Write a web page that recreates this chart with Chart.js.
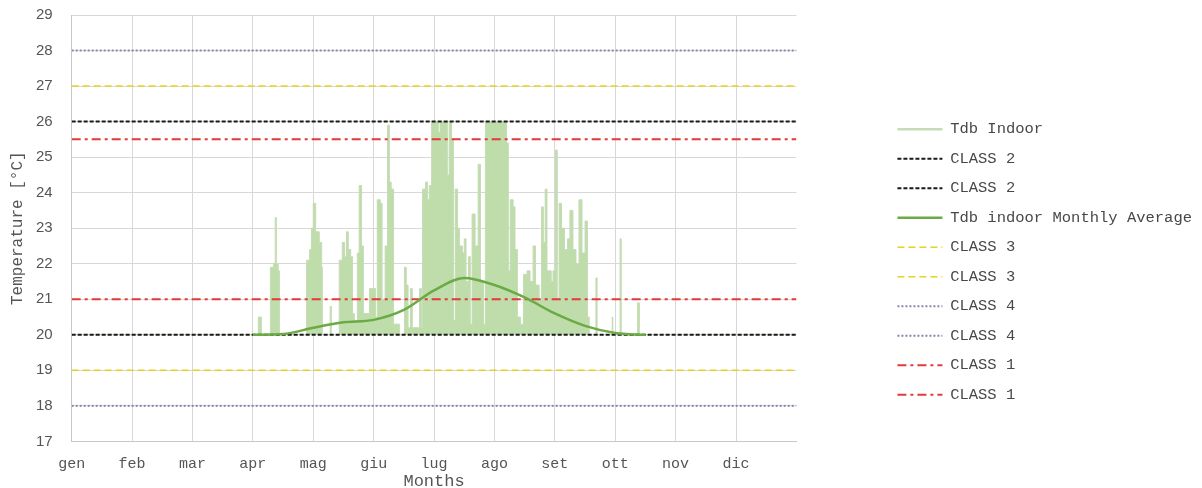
<!DOCTYPE html>
<html>
<head>
<meta charset="utf-8">
<script src="https://cdn.jsdelivr.net/npm/chart.js@4/dist/chart.umd.min.js"></script>
<style>
  body { margin: 0; background: #fff; }
  #wrap { width: 1202px; height: 488px; }
</style>
</head>
<body>
<div id="wrap"><canvas id="tempChart"></canvas></div>
<script>
// month labels (x axis runs 0..12, one unit per month)
var monthLabels = ['gen', 'feb', 'mar', 'apr', 'mag', 'giu', 'lug', 'ago', 'set', 'ott', 'nov', 'dic'];

// Tdb Indoor (x in months, y in degC)
var tdbX = [0, 3.04, 3.09, 3.13, 3.14, 3.28, 3.29, 3.34, 3.37, 3.39, 3.42, 3.44,
    3.87, 3.89, 3.94, 3.97, 4.00, 4.04, 4.07, 4.10, 4.14, 4.15, 4.27, 4.28, 4.30,
    4.42, 4.43, 4.48, 4.52, 4.55, 4.58, 4.62, 4.65, 4.68, 4.73, 4.76, 4.80, 4.83,
    4.90, 4.93, 5.00, 5.03, 5.06, 5.11, 5.14, 5.19, 5.23, 5.26, 5.29, 5.33, 5.41,
    5.43, 5.49, 5.51, 5.54, 5.57, 5.61, 5.64, 5.76, 5.79, 5.81, 5.86, 5.89, 5.92,
    5.96, 6.04, 6.07, 6.10, 6.19, 6.22, 6.25, 6.29, 6.32, 6.35, 6.39, 6.42, 6.47,
    6.50, 6.53, 6.57, 6.60, 6.63, 6.68, 6.73, 6.77, 6.82, 6.85, 7.16, 7.20, 7.23,
    7.26, 7.31, 7.34, 7.38, 7.43, 7.48, 7.54, 7.59, 7.64, 7.68, 7.74, 7.78, 7.81,
    7.84, 7.87, 7.94, 7.97, 8.01, 8.04, 8.07, 8.11, 8.16, 8.21, 8.25, 8.30, 8.35,
    8.40, 8.45, 8.50, 8.54, 8.57, 8.67, 8.68, 8.70, 8.93, 8.95, 8.96, 9.07, 9.08,
    9.10, 9.36, 9.37, 9.40, 12];
var tdbIndoor = [20, 20, 20.5, 20.5, 20, 20, 21.9, 22.0, 23.3, 22.0, 21.8, 20,
    20, 22.1, 22.4, 23.0, 23.7, 22.9, 22.9, 22.6, 21.9, 20, 20, 20.8, 20,
    20, 22.1, 22.6, 22.2, 22.9, 22.4, 22.2, 20.6, 20.4, 22.3, 24.2, 22.5, 20.6,
    20.6, 21.3, 21.3, 20.5, 23.8, 23.7, 21.0, 22.5, 25.9, 24.3, 24.1, 20.3, 20.3,
    20, 20, 21.9, 21.4, 20.2, 21.3, 20.2, 21.3, 20.2, 24.1, 24.3, 23.8, 24.2,
    26, 26, 25.7, 26, 26, 24.5, 26, 25.5, 20.4, 24.1, 23.0, 22.5, 22.3,
    22.7, 21.5, 22.2, 20.3, 23.4, 22.5, 24.8, 21.5, 20.3, 26, 26, 25.4, 21.8,
    23.8, 23.6, 22.4, 20.5, 20.3, 21.7, 21.8, 21.5, 22.5, 21.4, 21.0, 23.6, 22.6,
    24.1, 21.8, 21.5, 21.8, 25.2, 21.0, 23.7, 23.0, 22.4, 22.7, 23.5, 22.4, 22.0,
    23.8, 22.3, 23.2, 20.5, 20, 20, 21.6, 20, 20, 20.5, 20, 20, 22.7,
    20, 20, 20.9, 20, 20];

// monthly average curve
var avgX = [3.0, 3.5, 4.0, 4.5, 5.0, 5.5, 6.0, 6.5, 7.0, 7.5, 8.0, 8.5, 9.0, 9.5];
var avgTemp = [20.0, 20.02, 20.2, 20.35, 20.42, 20.7, 21.25, 21.6, 21.4, 21.05, 20.6, 20.25, 20.05, 20.0];

// comfort class limits (upper, lower)
var class1 = [25.5, 21];
var class2 = [26, 20];
var class3 = [27, 19];
var class4 = [28, 18];

function pts(xs, ys) {
    return xs.map(function (x, i) { return { x: x, y: ys[i] }; });
}
function flat(v) {
    return [{ x: 0, y: v }, { x: 12, y: v }];
}
function limitLine(label, v, color, dash, width) {
    return {
        label: label,
        data: flat(v),
        borderColor: color,
        backgroundColor: color,
        borderDash: dash,
        borderWidth: width,
        pointRadius: 0,
        pointHoverRadius: 0,
        fill: false,
        order: 1
    };
}

var monoFont = "'Liberation Mono', 'DejaVu Sans Mono', monospace";

var ctx = document.getElementById('tempChart').getContext('2d');
var tempChart = new Chart(ctx, {
    type: 'line',
    data: {
        datasets: [
            {
                label: 'Tdb Indoor',
                data: pts(tdbX, tdbIndoor),
                stepped: true,
                borderColor: '#c6dcb6',
                backgroundColor: 'rgb(190, 221, 170)',
                borderWidth: 1,
                pointRadius: 0,
                pointHoverRadius: 0,
                fill: { value: 20 },
                order: 5
            },
            limitLine('CLASS 2', class2[0], '#1a1a1a', [4, 2], 2),
            limitLine('CLASS 2', class2[1], '#1a1a1a', [4, 2], 2),
            {
                label: 'Tdb indoor Monthly Average',
                data: pts(avgX, avgTemp),
                borderColor: '#6aab45',
                backgroundColor: '#6aab45',
                borderWidth: 2.5,
                pointRadius: 0,
                pointHoverRadius: 0,
                cubicInterpolationMode: 'monotone',
                fill: false,
                order: 0
            },
            limitLine('CLASS 3', class3[0], '#e6d320', [7, 4], 1.5),
            limitLine('CLASS 3', class3[1], '#e6d320', [7, 4], 1.5),
            limitLine('CLASS 4', class4[0], '#8c84a8', [2, 2], 2),
            limitLine('CLASS 4', class4[1], '#8c84a8', [2, 2], 2),
            limitLine('CLASS 1', class1[0], '#e23a3a', [9, 4, 3, 4], 2),
            limitLine('CLASS 1', class1[1], '#e23a3a', [9, 4, 3, 4], 2)
        ]
    },
    options: {
        responsive: true,
        maintainAspectRatio: false,
        animation: false,
        layout: { padding: 0 },
        plugins: {
            tooltip: { enabled: false },
            legend: {
                position: 'right',
                maxWidth: 400,
                title: {
                    display: true,
                    text: ' ',
                    padding: 12,
                    font: { size: 12, lineHeight: 1 }
                },
                labels: {
                    usePointStyle: true,
                    usePointStyleWidth: true,
                    pointStyle: 'line',
                    pointStyleWidth: 45,
                    boxWidth: 45,
                    padding: 14,
                    color: '#484848',
                    font: { family: monoFont, size: 15.5 },
                    sort: function (a, b) { return a.datasetIndex - b.datasetIndex; },
                    generateLabels: function (chart) {
                        var items = Chart.defaults.plugins.legend.labels.generateLabels(chart);
                        items.forEach(function (it) {
                            var ds = chart.data.datasets[it.datasetIndex];
                            it.lineDash = ds.borderDash || [];
                            it.lineWidth = it.datasetIndex === 0 ? 2.5 : ds.borderWidth;
                            it.strokeStyle = ds.borderColor;
                        });
                        return items;
                    }
                }
            }
        },
        scales: {
            x: {
                type: 'linear',
                min: 0,
                max: 12,
                afterBuildTicks: function (s) {
                    s.ticks = monthLabels.map(function (m, i) { return { value: i }; });
                },
                ticks: {
                    padding: 3,
                    color: '#555',
                    font: { family: monoFont, size: 15, lineHeight: 1 },
                    callback: function (v) { return monthLabels[v]; }
                },
                grid: { color: '#d8d8d8', drawTicks: true, tickLength: 12, tickColor: 'rgba(0,0,0,0)' },
                border: { color: '#c8c8c8' },
                title: {
                    display: true,
                    text: 'Months',
                    color: '#555',
                    padding: 0,
                    font: { family: monoFont, size: 17, lineHeight: 0.8 }
                }
            },
            y: {
                min: 17,
                max: 29,
                ticks: {
                    stepSize: 0.5,
                    padding: 6,
                    color: '#555',
                    font: { family: "'Liberation Sans', Arial, sans-serif", size: 15 },
                    callback: function (v) { return Number.isInteger(v) ? v : ''; }
                },
                grid: {
                    drawTicks: true,
                    tickLength: 13,
                    tickColor: 'rgba(0,0,0,0)',
                    color: function (c) {
                        return Number.isInteger(c.tick.value) ? '#d8d8d8' : '#eeeeee';
                    }
                },
                border: { color: '#c8c8c8' },
                title: {
                    display: true,
                    text: 'Temperature [°C]',
                    color: '#555',
                    padding: { top: 10, bottom: 4 },
                    font: { family: monoFont, size: 16, lineHeight: 1 }
                }
            },
            spacer: {
                type: 'linear',
                position: 'right',
                grid: { display: false },
                border: { display: false },
                ticks: { display: false },
                afterFit: function (s) { s.width = 87; }
            }
        }
    }
});
</script>
</body>
</html>
